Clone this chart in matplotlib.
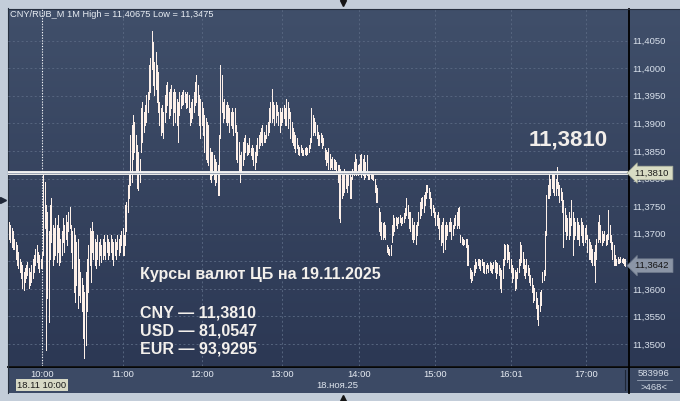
"""CNY/RUB 1-minute chart for 18.11 with the CB rate line."""

import numpy as np
import matplotlib.pyplot as plt
import matplotlib.transforms as mtrans
from matplotlib.colors import LinearSegmentedColormap
from matplotlib.patches import Rectangle

plt.rcParams['font.family'] = ['Liberation Sans', 'DejaVu Sans']

# Per-minute bar highs and lows
highs = [
    11.3722, 11.3716, 11.3710, 11.3704, 11.3691, 11.3685, 11.3679, 11.3667, 11.3655, 11.3649,
    11.3643, 11.3631, 11.3637, 11.3643, 11.3649, 11.3637, 11.3631, 11.3643, 11.3655, 11.3661,
    11.3673, 11.3679, 11.3667, 11.3661, 11.3655, 11.3667, 11.3806, 11.3794, 11.3752, 11.3740,
    11.3704, 11.3752, 11.3764, 11.3716, 11.3710, 11.3728, 11.3716, 11.3734, 11.3710, 11.3691,
    11.3704, 11.3728, 11.3716, 11.3734, 11.3722, 11.3740, 11.3749, 11.3716, 11.3704, 11.3710,
    11.3697, 11.3685, 11.3691, 11.3655, 11.3631, 11.3619, 11.3607, 11.3595, 11.3631, 11.3655,
    11.3679, 11.3710, 11.3704, 11.3722, 11.3704, 11.3691, 11.3685, 11.3697, 11.3685, 11.3691,
    11.3679, 11.3691, 11.3697, 11.3685, 11.3697, 11.3691, 11.3685, 11.3697, 11.3691, 11.3685,
    11.3691, 11.3685, 11.3697, 11.3691, 11.3697, 11.3704, 11.3710, 11.3697, 11.3752, 11.3758,
    11.3788, 11.3806, 11.3879, 11.3897, 11.3915, 11.3903, 11.3879, 11.3861, 11.3848, 11.3836,
    11.3927, 11.3939, 11.3921, 11.3933, 11.3951, 11.3957, 11.4006, 11.4018, 11.40675, 11.4048,
    11.4012, 11.4030, 11.4006, 11.3993, 11.3939, 11.3927, 11.3933, 11.3921, 11.3951, 11.3969,
    11.3975, 11.3957, 11.3963, 11.3969, 11.3957, 11.3963, 11.3957, 11.3945, 11.3939, 11.3957,
    11.3951, 11.3957, 11.3960, 11.3957, 11.3954, 11.3957, 11.3951, 11.3927, 11.3939, 11.3945,
    11.3957, 11.3975, 11.3987, 11.3969, 11.3951, 11.3945, 11.3939, 11.3927, 11.3915, 11.3909,
    11.3903, 11.3897, 11.3855, 11.3848, 11.3848, 11.3842, 11.3836, 11.3830, 11.3824, 11.3879,
    11.4006, 11.3987, 11.3939, 11.3945, 11.3933, 11.3939, 11.3933, 11.3927, 11.3921, 11.3927,
    11.3921, 11.3927, 11.3897, 11.3885, 11.3867, 11.3842, 11.3848, 11.3867, 11.3873, 11.3879,
    11.3864, 11.3861, 11.3873, 11.3855, 11.3861, 11.3855, 11.3848, 11.3861, 11.3873, 11.3879,
    11.3885, 11.3891, 11.3897, 11.3885, 11.3879, 11.3897, 11.3903, 11.3927, 11.3939, 11.3963,
    11.3939, 11.3933, 11.3939, 11.3933, 11.3921, 11.3927, 11.3921, 11.3927, 11.3933, 11.3927,
    11.3945, 11.3939, 11.3927, 11.3921, 11.3903, 11.3891, 11.3885, 11.3879, 11.3873, 11.3861,
    11.3858, 11.3861, 11.3855, 11.3852, 11.3855, 11.3858, 11.3855, 11.3861, 11.3873, 11.3927,
    11.3915, 11.3909, 11.3903, 11.3897,
    11.3885, 11.3879, 11.3882, 11.3879, 11.3873, 11.3855, 11.3852, 11.3848, 11.3855, 11.3845,
    11.3836, 11.3839, 11.3836, 11.3833, 11.3830, 11.3824, 11.3824, 11.3818, 11.3812, 11.3806,
    11.3818, 11.3812, 11.3809, 11.3806, 11.3812, 11.3803, 11.3818, 11.3830, 11.3845, 11.3836,
    11.3824, 11.3827, 11.3842, 11.3845, 11.3836, 11.3842, 11.3830, 11.3842, 11.3812, 11.3809,
    11.3812, 11.3809, 11.3806, 11.3800, 11.3788, 11.3782, 11.3746, 11.3740, 11.3722, 11.3719,
    11.3722, 11.3716, 11.3679, 11.3676, 11.3673, 11.3679, 11.3716, 11.3734, 11.3728, 11.3731,
    11.3728, 11.3731, 11.3734, 11.3728, 11.3731, 11.3737, 11.3746, 11.3764, 11.3752, 11.3740,
    11.3740, 11.3728, 11.3716, 11.3722, 11.3716, 11.3722, 11.3740, 11.3758, 11.3764, 11.3767,
    11.3770, 11.3776, 11.3788, 11.3788, 11.3782, 11.3776, 11.3764, 11.3752, 11.3746, 11.3740,
    11.3734, 11.3740, 11.3728, 11.3716, 11.3722, 11.3728, 11.3716, 11.3722, 11.3716, 11.3722,
    11.3728, 11.3722, 11.3716, 11.3728, 11.3734, 11.3740, 11.3746, 11.3749, 11.3697, 11.3694,
    11.3691, 11.3688, 11.3691, 11.3691, 11.3679, 11.3637, 11.3634, 11.3631, 11.3643, 11.3655,
    11.3649, 11.3655, 11.3655, 11.3652, 11.3655, 11.3649, 11.3649, 11.3643, 11.3646, 11.3643,
    11.3649, 11.3646, 11.3643, 11.3649, 11.3652, 11.3649, 11.3646, 11.3643, 11.3637, 11.3634,
    11.3655, 11.3682, 11.3679, 11.3682, 11.3679, 11.3667, 11.3655, 11.3643, 11.3637, 11.3634,
    11.3631, 11.3637, 11.3655, 11.3685, 11.3679, 11.3667, 11.3655, 11.3643, 11.3655, 11.3643,
    11.3637, 11.3625, 11.3619, 11.3607, 11.3601, 11.3595, 11.3583, 11.3571, 11.3595, 11.3598,
    11.3631, 11.3634, 11.3704, 11.3770, 11.3788, 11.3812, 11.3800, 11.3812, 11.3812, 11.3806,
    11.3800, 11.3821, 11.3794, 11.3788, 11.3782, 11.3776, 11.3761, 11.3746, 11.3734, 11.3728,
    11.3740, 11.3728, 11.3761, 11.3740, 11.3728, 11.3722, 11.3728, 11.3722, 11.3716, 11.3728,
    11.3722, 11.3716, 11.3710, 11.3716, 11.3697, 11.3691, 11.3685, 11.3679, 11.3673, 11.3667,
    11.3679, 11.3691, 11.3722, 11.3734, 11.3716, 11.3704, 11.3700, 11.3704, 11.3697, 11.3700,
    11.3743, 11.3716, 11.3697, 11.3685, 11.3679, 11.3661, 11.3655, 11.3658, 11.3655, 11.3658,
    11.3655, 11.3656, 11.3655, 11.3655,
]
lows = [
    11.3691, 11.3685, 11.3676, 11.3673, 11.3673, 11.3655, 11.3643, 11.3637, 11.3631, 11.3619,
    11.3601, 11.3598, 11.3613, 11.3619, 11.3625, 11.3601, 11.3607, 11.3613, 11.3619, 11.3631,
    11.3643, 11.3649, 11.3637, 11.3631, 11.3637, 11.3637, 11.3661, 11.3710, 11.3489, 11.3583,
    11.3540, 11.3655, 11.3685, 11.3643, 11.3655, 11.3661, 11.3649, 11.3667, 11.3643, 11.3649,
    11.3661, 11.3685, 11.3667, 11.3691, 11.3679, 11.3704, 11.3710, 11.3667, 11.3637, 11.3595,
    11.3577, 11.3607, 11.3565, 11.3589, 11.3577, 11.3559, 11.3510, 11.3475, 11.3498, 11.3559,
    11.3595, 11.3643, 11.3613, 11.3667, 11.3655, 11.3643, 11.3637, 11.3655, 11.3643, 11.3661,
    11.3649, 11.3655, 11.3661, 11.3655, 11.3667, 11.3655, 11.3661, 11.3667, 11.3655, 11.3643,
    11.3661, 11.3655, 11.3673, 11.3661, 11.3667, 11.3679, 11.3661, 11.3661, 11.3679, 11.3704,
    11.3740, 11.3764, 11.3788, 11.3794, 11.3836, 11.3848, 11.3812, 11.3782, 11.3779, 11.3794,
    11.3848, 11.3867, 11.3885, 11.3897, 11.3903, 11.3921, 11.3945, 11.3957, 11.3999, 11.3969,
    11.3951, 11.3963, 11.3939, 11.3921, 11.3897, 11.3879, 11.3885, 11.3873, 11.3903, 11.3921,
    11.3933, 11.3909, 11.3915, 11.3927, 11.3897, 11.3921, 11.3903, 11.3897, 11.3867, 11.3915,
    11.3927, 11.3933, 11.3936, 11.3939, 11.3927, 11.3930, 11.3921, 11.3897, 11.3903, 11.3909,
    11.3921, 11.3933, 11.3939, 11.3915, 11.3897, 11.3873, 11.3897, 11.3879, 11.3848, 11.3836,
    11.3830, 11.3824, 11.3800, 11.3794, 11.3806, 11.3800, 11.3788, 11.3794, 11.3770, 11.3770,
    11.3873, 11.3921, 11.3903, 11.3909, 11.3903, 11.3897, 11.3903, 11.3885, 11.3897, 11.3891,
    11.3879, 11.3885, 11.3836, 11.3830, 11.3812, 11.3794, 11.3812, 11.3824, 11.3836, 11.3848,
    11.3842, 11.3845, 11.3848, 11.3842, 11.3836, 11.3824, 11.3818, 11.3830, 11.3842, 11.3855,
    11.3861, 11.3867, 11.3861, 11.3867, 11.3867, 11.3873, 11.3879, 11.3885, 11.3903, 11.3903,
    11.3909, 11.3897, 11.3903, 11.3915, 11.3897, 11.3885, 11.3897, 11.3903, 11.3909, 11.3897,
    11.3897, 11.3891, 11.3909, 11.3873, 11.3867, 11.3861, 11.3855, 11.3848, 11.3855, 11.3845,
    11.3842, 11.3848, 11.3842, 11.3842, 11.3845, 11.3842, 11.3845, 11.3848, 11.3855, 11.3867,
    11.3879, 11.3885, 11.3879, 11.3873,
    11.3861, 11.3861, 11.3867, 11.3855, 11.3861, 11.3836, 11.3824, 11.3830, 11.3818, 11.3818,
    11.3821, 11.3818, 11.3818, 11.3818, 11.3812, 11.3794, 11.3728, 11.3722, 11.3764, 11.3770,
    11.3776, 11.3782, 11.3776, 11.3788, 11.3764, 11.3764, 11.3800, 11.3806, 11.3812, 11.3806,
    11.3806, 11.3809, 11.3812, 11.3803, 11.3806, 11.3800, 11.3803, 11.3806, 11.3800, 11.3800,
    11.3801, 11.3800, 11.3797, 11.3776, 11.3758, 11.3758, 11.3704, 11.3697, 11.3691, 11.3691,
    11.3694, 11.3691, 11.3667, 11.3664, 11.3661, 11.3661, 11.3685, 11.3697, 11.3704, 11.3716,
    11.3710, 11.3719, 11.3722, 11.3716, 11.3719, 11.3722, 11.3728, 11.3734, 11.3728, 11.3710,
    11.3704, 11.3691, 11.3685, 11.3691, 11.3682, 11.3697, 11.3716, 11.3728, 11.3734, 11.3746,
    11.3740, 11.3752, 11.3764, 11.3776, 11.3764, 11.3746, 11.3734, 11.3740, 11.3731, 11.3716,
    11.3716, 11.3710, 11.3691, 11.3679, 11.3685, 11.3667, 11.3673, 11.3691, 11.3697, 11.3704,
    11.3704, 11.3691, 11.3697, 11.3710, 11.3716, 11.3710, 11.3716, 11.3710, 11.3685, 11.3682,
    11.3679, 11.3682, 11.3676, 11.3643, 11.3643, 11.3619, 11.3613, 11.3616, 11.3625, 11.3631,
    11.3637, 11.3643, 11.3637, 11.3634, 11.3643, 11.3631, 11.3628, 11.3628, 11.3637, 11.3631,
    11.3634, 11.3631, 11.3628, 11.3637, 11.3631, 11.3619, 11.3628, 11.3625, 11.3601, 11.3595,
    11.3619, 11.3643, 11.3655, 11.3649, 11.3655, 11.3637, 11.3631, 11.3613, 11.3619, 11.3598,
    11.3601, 11.3619, 11.3631, 11.3643, 11.3649, 11.3637, 11.3625, 11.3619, 11.3631, 11.3625,
    11.3613, 11.3607, 11.3595, 11.3577, 11.3580, 11.3565, 11.3546, 11.3534, 11.3559, 11.3571,
    11.3613, 11.3616, 11.3625, 11.3697, 11.3764, 11.3764, 11.3770, 11.3782, 11.3776, 11.3770,
    11.3770, 11.3782, 11.3770, 11.3758, 11.3761, 11.3740, 11.3676, 11.3704, 11.3691, 11.3697,
    11.3691, 11.3697, 11.3716, 11.3661, 11.3691, 11.3697, 11.3691, 11.3691, 11.3679, 11.3697,
    11.3685, 11.3679, 11.3685, 11.3691, 11.3667, 11.3655, 11.3655, 11.3649, 11.3643, 11.3643,
    11.3613, 11.3655, 11.3685, 11.3691, 11.3685, 11.3679, 11.3685, 11.3688, 11.3679, 11.3682,
    11.3691, 11.3685, 11.3673, 11.3655, 11.3643, 11.3643, 11.3643, 11.3646, 11.3646, 11.3648,
    11.3649, 11.3646, 11.3643, 11.3642,
]

# Bar index of each hour mark and its label
time_ticks = [25, 86, 146, 207, 265, 323, 380, 437]
time_labels = ['10:00', '11:00', '12:00', '13:00', '14:00', '15:00', '16:01', '17:00']
price_ticks = [11.3500, 11.3550, 11.3600, 11.3650, 11.3700, 11.3750,
               11.3800, 11.3850, 11.3900, 11.3950, 11.4000, 11.4050]

session_high = 11.40675
session_low = 11.3475
cb_rate = 11.3810
last_price = 11.3642
cursor_label = '18.11 10:00'
day_label = '18.ноя.25'
volume = 583996
rates_title = 'Курсы валют ЦБ на 19.11.2025'
rate_names = ['CNY', 'USD', 'EUR']
rate_values = ['11,3810', '81,0547', '93,9295']


def fmt(v, nd=4):
    return f'{v:.{nd}f}'.replace('.', ',')


fig = plt.figure(figsize=(6.8, 4.01), dpi=100)
fig.patch.set_facecolor('#c3cdd9')

# window chrome drawn in pixel coordinates
chrome = fig.add_axes([0, 0, 1, 1])
chrome.set_xlim(0, 680)
chrome.set_ylim(401, 0)
chrome.axis('off')
cmap = LinearSegmentedColormap.from_list('panel', ['#404f6a', '#2c3854'])
chrome.imshow(np.linspace(0, 1, 256)[:, None], extent=[8, 680, 366, 9],
              aspect='auto', cmap=cmap)
chrome.add_patch(Rectangle((8, 367), 672, 26, color='#3c4a65', lw=0))
chrome.plot([8, 680], [366.5, 366.5], color='black', lw=1.3)
chrome.plot([628.5, 628.5], [9, 393], color='black', lw=1.3)
chrome.plot([8, 680], [8.5, 8.5], color='#26303f', lw=0.8)
chrome.plot([7.5, 7.5], [8, 393], color='#26303f', lw=0.8)
chrome.plot([624.5, 624.5], [370, 390], color='#1e2636', lw=0.8)
chrome.plot([637, 672], [380, 380], color='#9aa6b8', lw=0.6)
chrome.plot(343, 2.5, marker='v', color='#151515', ms=5)
chrome.plot(343, 398, marker='^', color='#151515', ms=5)
chrome.plot(3, 200, marker='>', color='#202838', ms=5)

chrome.text(10, 14.5, f'CNY/RUB_M 1M High = {fmt(session_high, 5)} Low = {fmt(session_low)}',
            color='#e8edf3', fontsize=6.7, va='center')
chrome.text(42, 385, cursor_label, color='#1a1a1a', fontsize=6.8, ha='center', va='center',
            bbox=dict(fc='#d7d9c5', ec='none', boxstyle='square,pad=0.2'))
chrome.text(337, 386, day_label, color='#dfe5ee', fontsize=6.8, ha='center', va='center')
chrome.text(654, 373.5, str(volume), color='#d6dde8', fontsize=6.8, ha='center', va='center')
chrome.text(654, 387, f'>{len(highs)}<', color='#d6dde8', fontsize=6.8, ha='center', va='center')

# price panel
ax = fig.add_axes([8 / 680, 1 - 366 / 401, 620 / 680, 357 / 401])
ax.set_facecolor('none')
for s in ax.spines.values():
    s.set_visible(False)
ax.set_xlim(-0.76, 468.9)
ax.set_ylim(11.34601, 11.41074)

ax.set_yticks(price_ticks)
ax.set_yticklabels([fmt(p) for p in price_ticks])
ax.yaxis.tick_right()
ax.set_xticks(time_ticks)
ax.set_xticklabels(time_labels)
ax.tick_params(axis='y', length=0, pad=3, labelsize=6.8, labelcolor='#d9e1ec')
ax.tick_params(axis='x', length=0, pad=3, labelsize=6.8, labelcolor='#e6ebf2')
ax.set_axisbelow(True)
ax.grid(True, color='#56657f', lw=0.7, ls=(0, (2, 2.5)))

idx = np.arange(len(highs))
ax.vlines(idx, lows, highs, colors='#fdf0e9', lw=0.55, antialiased=False, zorder=3)

ax.axvline(time_ticks[0], color='white', lw=0.8, ls=(0, (1, 1.5)), zorder=2)
ax.axhline(cb_rate, color='#f2f2f2', lw=2.8, zorder=4)
ax.axhline(cb_rate, color='#8c96a8', lw=0.6, zorder=4)

side = mtrans.blended_transform_factory(ax.transAxes, ax.transData)
ax.text(1.0105, cb_rate, fmt(cb_rate) + ' ', transform=side, fontsize=6.8, color='#1c1c1c',
        va='center', ha='left', zorder=10, clip_on=False,
        bbox=dict(boxstyle='larrow,pad=0.25', fc='#d8dcc4', ec='#a0a694', lw=0.5))
ax.text(1.0105, last_price, fmt(last_price) + ' ', transform=side, fontsize=6.8, color='#151515',
        va='center', ha='left', zorder=10, clip_on=False,
        bbox=dict(boxstyle='larrow,pad=0.25', fc='#8b95a6', ec='#6f7a8c', lw=0.5))

px = chrome.transData
ax.text(568, 140, fmt(cb_rate), transform=px, fontsize=16, fontweight='bold',
        color='#f2eeea', ha='center', va='center', zorder=6)
ax.text(140, 275, rates_title, transform=px, fontsize=11.5, fontweight='bold',
        color='#f3f0ec', va='center', zorder=6)
for k, (name, value) in enumerate(zip(rate_names, rate_values)):
    ax.text(140, 312.5 + 18.3 * k, f'{name} — {value}', transform=px, fontsize=11.5,
            fontweight='bold', color='#f3f0ec', va='center', zorder=6)

fig.savefig('out.png', dpi=100, facecolor=fig.get_facecolor())
